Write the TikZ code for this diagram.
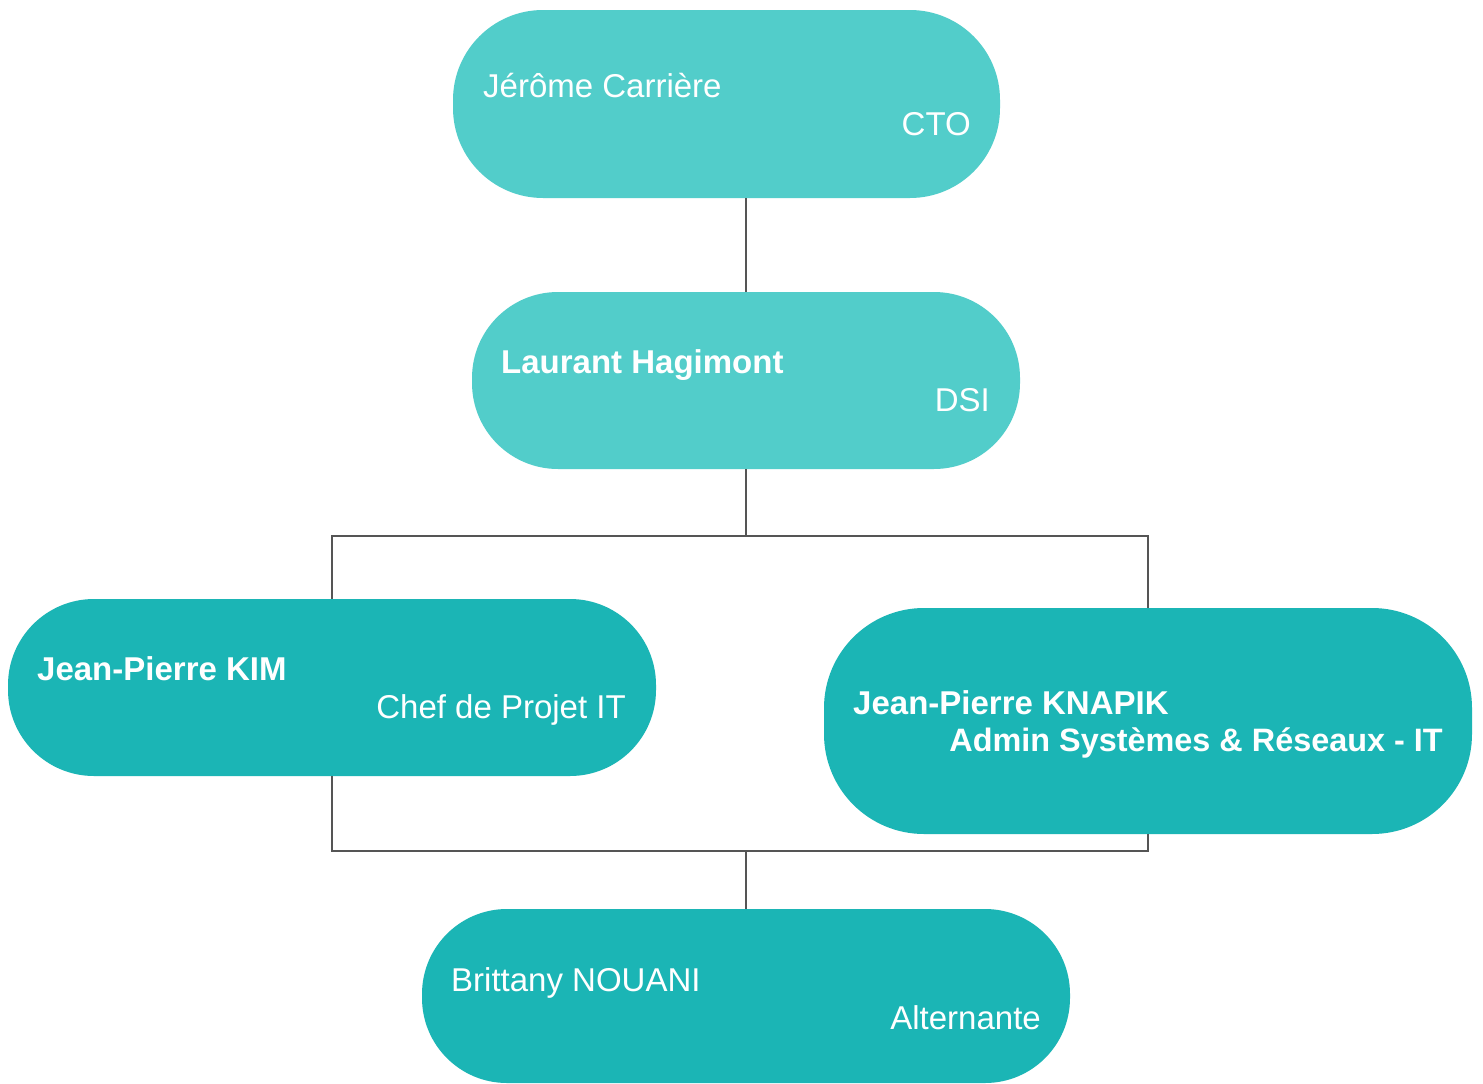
\documentclass[tikz,border=0pt]{standalone}
\usepackage{fontspec}
\setmainfont{Liberation Sans}
\definecolor{tealA}{HTML}{52CDCA}
\definecolor{tealB}{HTML}{1BB5B5}
\definecolor{linec}{HTML}{555555}
\begin{document}
\begin{tikzpicture}[x=1pt,y=-1pt,
  pill/.style={rectangle, draw=none, inner sep=0pt},
  lbl/.style={text=white, inner sep=0pt, font=\fontsize{33}{38}\selectfont},
  blbl/.style={lbl, font=\fontsize{33}{38}\selectfont\bfseries},
  conn/.style={draw=linec, line width=1.3pt}]
\useasboundingbox[fill=white] (0,0) rectangle (1483,1084);
% boxes
\node[pill, fill=tealA, minimum width=547, minimum height=188, rounded corners=90] (cto) at (726.5,104) {};
\node[pill, fill=tealA, minimum width=548, minimum height=177, rounded corners=86] (dsi) at (746,380.5) {};
\node[pill, fill=tealB, minimum width=648, minimum height=177, rounded corners=86] (kim) at (332,687.5) {};
\node[pill, fill=tealB, minimum width=648, minimum height=226, rounded corners=100] (knapik) at (1148,721) {};
\node[pill, fill=tealB, minimum width=648, minimum height=174, rounded corners=85] (nouani) at (746,996) {};
% texts
\node[lbl, anchor=base west] (t1) at (483,97) {Jérôme Carrière};
\node[lbl, anchor=base east] (t2) at (971,135) {CTO};
\node[blbl, anchor=base west] (t3) at (501,373) {Laurant Hagimont};
\node[lbl, anchor=base east] (t4) at (990,411) {DSI};
\node[blbl, anchor=base west] (t5) at (37,680) {Jean-Pierre KIM};
\node[lbl, anchor=base east] (t6) at (626,718) {Chef de Projet IT};
\node[blbl, anchor=base west] (t7) at (853,714) {Jean-Pierre KNAPIK};
\node[blbl, anchor=base east, font=\fontsize{32.4}{38}\selectfont\bfseries] (t8) at (1443,751) {Admin Systèmes \& Réseaux - IT};
\node[lbl, anchor=base west] (t9) at (451,991) {Brittany NOUANI};
\node[lbl, anchor=base east] (t10) at (1041,1029) {Alternante};
% connectors
\coordinate (bus1) at (746,536);
\coordinate (bus2) at (746,851);
\draw[conn] (dsi.north |- cto.south) -- (dsi.north);
\draw[conn] (dsi.south) -- (bus1);
\draw[conn] (kim.north) |- (bus1) -| (knapik.north);
\draw[conn] (kim.south) |- (bus2) -| (knapik.south);
\draw[conn] (bus2) -- (nouani.north);
\end{tikzpicture}
\end{document}
